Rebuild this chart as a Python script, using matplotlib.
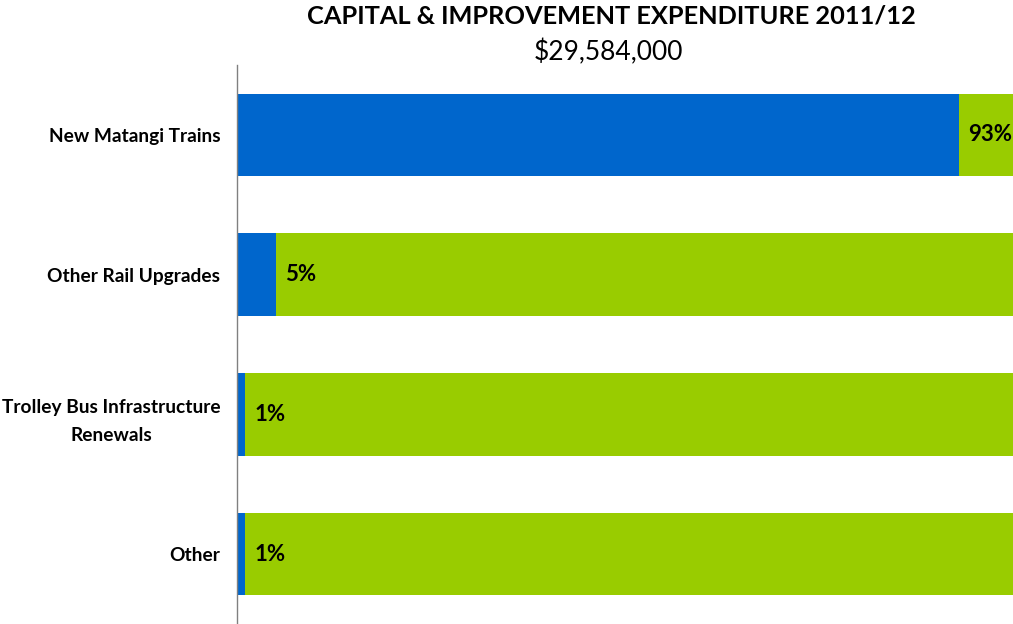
import matplotlib.pyplot as plt

# Share of capital & improvement spend by project
categories = ['New Matangi Trains', 'Other Rail Upgrades',
              'Trolley Bus Infrastructure\nRenewals', 'Other']
share = [93, 5, 1, 1]
labels = ['93%', '5%', '1%', '1%']
remainder = [100 - s for s in share]

plt.rcParams['font.family'] = ['Lato', 'DejaVu Sans']

fig = plt.figure(figsize=(10.13, 6.24), dpi=100)
ax = fig.add_axes([237 / 1013, 0, 1 - 237 / 1013, 1 - 65 / 624])

pos = range(len(categories))
ax.barh(pos, share, height=0.59, color='#0066CC')
ax.barh(pos, remainder, left=share, height=0.59, color='#99CC00')

for y, s, lab in zip(pos, share, labels):
    ax.annotate(lab, (s, y), xytext=(7, 0), textcoords='offset points',
                ha='left', va='center', fontsize=16, fontweight='bold')

ax.set_xlim(0, 100)
ax.set_ylim(len(categories) - 0.5, -0.5)
ax.set_yticks(list(pos))
ax.set_yticklabels(categories, fontsize=13.8, fontweight='bold',
                   multialignment='center', linespacing=1.8)
ax.tick_params(axis='y', length=0, pad=12)
ax.set_xticks([])
for side in ['top', 'right', 'bottom']:
    ax.spines[side].set_visible(False)
ax.spines['left'].set_color('#808080')
ax.spines['left'].set_linewidth(1)

fig.text(611 / 1013, 1 - 16 / 624, 'CAPITAL & IMPROVEMENT EXPENDITURE 2011/12',
         ha='center', va='center', fontsize=18.3, fontweight='bold')
fig.text(608 / 1013, 1 - 52 / 624, '$29,584,000',
         ha='center', va='center', fontsize=19)

fig.savefig('out.png', dpi=100)
